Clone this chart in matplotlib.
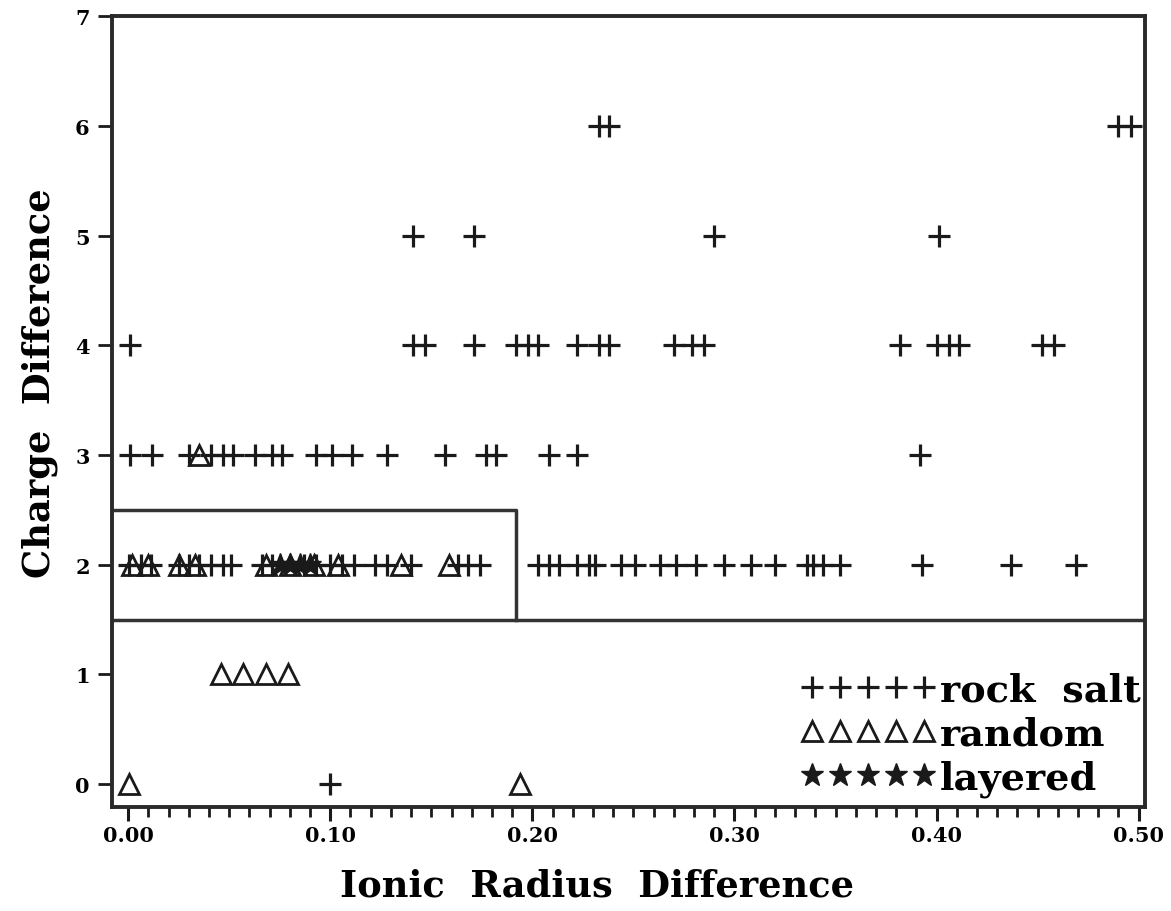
import matplotlib
matplotlib.use("Agg")
import matplotlib.pyplot as plt
from matplotlib.ticker import MultipleLocator, FormatStrFormatter

# ---- data ----
rock_x_y0 = [0.10]
rock_x_y2 = [0.0005, 0.0064, 0.0114, 0.025, 0.030, 0.035, 0.041, 0.047, 0.051,
             0.066, 0.071, 0.087, 0.093, 0.100, 0.106, 0.112, 0.122, 0.128, 0.140,
             0.163, 0.168, 0.174,
             0.203, 0.208, 0.213, 0.222, 0.228, 0.231, 0.244, 0.251, 0.263, 0.271,
             0.281, 0.295, 0.308, 0.320, 0.336, 0.339, 0.344, 0.352, 0.393, 0.437, 0.469]
rock_x_y3 = [0.001, 0.012, 0.030, 0.041, 0.047, 0.052, 0.063, 0.071, 0.076, 0.093,
             0.101, 0.111, 0.128, 0.157, 0.177, 0.182, 0.208, 0.222, 0.392]
rock_x_y4 = [0.001, 0.141, 0.147, 0.171, 0.192, 0.198, 0.203, 0.222, 0.233, 0.238,
             0.270, 0.279, 0.285, 0.382, 0.400, 0.406, 0.411, 0.452, 0.458]
rock_x_y5 = [0.141, 0.171, 0.290, 0.401]
rock_x_y6 = [0.233, 0.238, 0.490, 0.496]

random_x_y0 = [0.0005, 0.194]
random_x_y1 = [0.046, 0.057, 0.068, 0.079]
random_x_y2 = [0.002, 0.010, 0.025, 0.033, 0.068, 0.080, 0.092, 0.104, 0.135, 0.159]
random_x_y3 = [0.035]

layered_x_y2 = [0.075, 0.080, 0.085, 0.090]

# region boundaries
box_x = [-0.008, 0.192, 0.192]
box_y = [2.5, 2.5, 1.5]
floor_x = [-0.008, 0.503]
floor_y = [1.5, 1.5]

x_label = "Ionic  Radius  Difference"
y_label = "Charge  Difference"
legend_labels = ["rock  salt", "random", "layered"]


def expand(groups):
    xs, ys = [], []
    for yv, xl in groups:
        xs += list(xl)
        ys += [yv] * len(xl)
    return xs, ys


rock_x, rock_y = expand([(0, rock_x_y0), (2, rock_x_y2), (3, rock_x_y3),
                         (4, rock_x_y4), (5, rock_x_y5), (6, rock_x_y6)])
rand_x, rand_y = expand([(0, random_x_y0), (1, random_x_y1), (2, random_x_y2),
                         (3, random_x_y3)])
lay_x, lay_y = expand([(2, layered_x_y2)])

plt.rcParams['font.family'] = ['DejaVu Serif']
plt.rcParams['font.weight'] = 'bold'

fig = plt.figure(figsize=(11.71, 9.12), dpi=100)
ax = fig.add_axes([0.0956, 0.114, 0.882, 0.867])

ink = '#1a1a1a'
ax.plot(box_x, box_y, color='#333333', lw=2.5, zorder=1)
ax.plot(floor_x, floor_y, color='#333333', lw=2.5, zorder=1)

ax.plot(rand_x, rand_y, ls='none', marker='^', ms=15, mfc='white', mec=ink, mew=2,
        label=legend_labels[1], zorder=2)
ax.plot(rock_x, rock_y, ls='none', marker='+', ms=16, mec=ink, mew=2.3,
        label=legend_labels[0], zorder=3)
ax.plot(lay_x, lay_y, ls='none', marker='*', ms=17, mfc=ink, mec=ink,
        label=legend_labels[2], zorder=4)

ax.set_xlim(-0.008, 0.503)
ax.set_ylim(-0.21, 7.0)

ax.xaxis.set_major_locator(MultipleLocator(0.1))
ax.xaxis.set_minor_locator(MultipleLocator(0.01))
ax.xaxis.set_major_formatter(FormatStrFormatter('%.2f'))
ax.yaxis.set_major_locator(MultipleLocator(1))

ax.tick_params(axis='x', which='major', direction='out', length=10, width=2.2,
               color=ink, labelsize=15, pad=3)
ax.tick_params(axis='x', which='minor', direction='out', length=7, width=2,
               color=ink)
ax.tick_params(axis='y', which='major', direction='out', length=10, width=2,
               color=ink, labelsize=15, pad=6)

for s in ax.spines.values():
    s.set_linewidth(2.8)
    s.set_color('#2a2a2a')

ax.set_xlabel(x_label, fontsize=26.5, fontweight='bold')
ax.set_ylabel(y_label, fontsize=26.5, fontweight='bold')
ax.xaxis.set_label_coords(0.47, -0.076)
ax.yaxis.set_label_coords(-0.052, 0.537)

handles, labels = ax.get_legend_handles_labels()
order = [1, 0, 2]
leg = ax.legend([handles[i] for i in order], [labels[i] for i in order],
                loc='lower right', bbox_to_anchor=(1.018, -0.016), frameon=False,
                numpoints=5, fontsize=27.5, handlelength=3.55, handletextpad=0.1,
                labelspacing=0.18, borderaxespad=0.2)
for t in leg.get_texts():
    t.set_fontweight('bold')

fig.savefig('out.png', dpi=100)
